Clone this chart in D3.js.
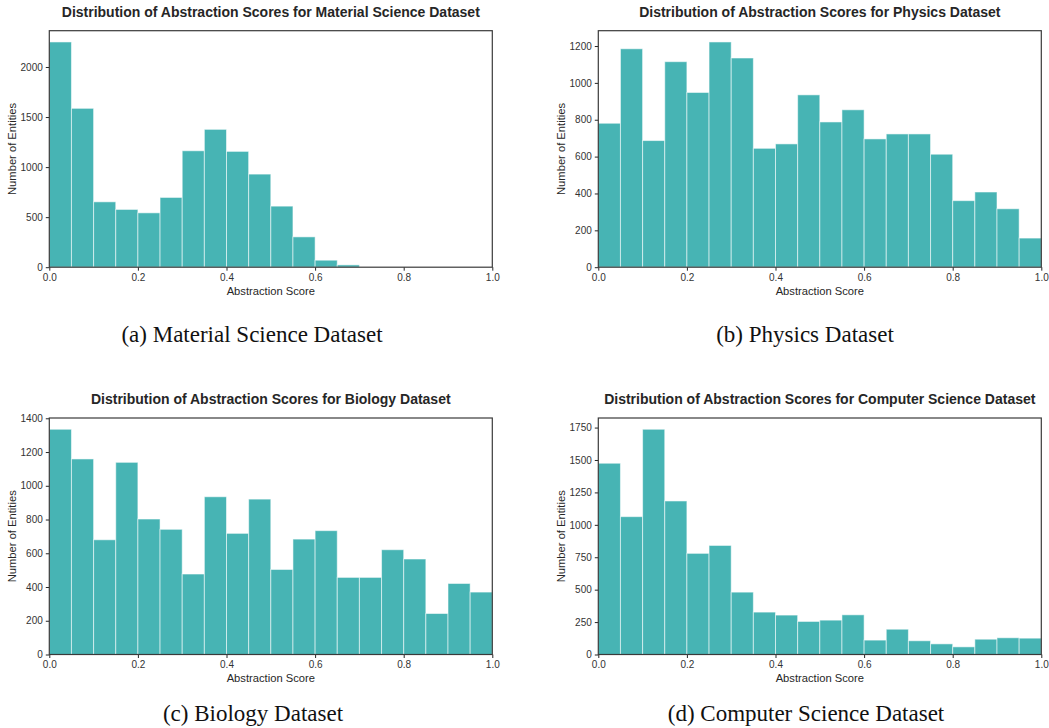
<!DOCTYPE html>
<html>
<head>
<meta charset="utf-8">
<script src="https://cdn.jsdelivr.net/npm/d3@7"></script>
<style>
  body { margin: 0; background: #fff; }
  svg { display: block; }
  .tick text { font-family: "Liberation Sans", Arial, sans-serif; }
</style>
</head>
<body>
<svg id="chart" width="1049" height="728"></svg>
<script>
// bin starts of the histograms (20 bins of width 0.05 on [0, 1])
const binStarts = d3.range(20).map((i) => i / 20);
const binWidth = 0.05;

const materialCounts = [2250, 1587, 653, 577, 543, 697, 1163, 1377, 1157, 930,
  610, 303, 70, 23, 0, 0, 0, 0, 0, 0];
const physicsCounts = [781, 1185, 687, 1115, 948, 1222, 1135, 645, 669, 935,
  788, 854, 696, 723, 723, 613, 361, 408, 317, 158];
const biologyCounts = [1335, 1159, 680, 1139, 803, 742, 477, 935, 718, 921,
  504, 684, 734, 457, 457, 621, 566, 243, 421, 370];
const csCounts = [1475, 1063, 1737, 1184, 780, 841, 481, 327, 304, 255,
  265, 306, 111, 195, 106, 82, 59, 118, 129, 126];

const xTicks = [0, 0.2, 0.4, 0.6, 0.8, 1.0];
const materialYTicks = [0, 500, 1000, 1500, 2000];
const physicsYTicks = [0, 200, 400, 600, 800, 1000, 1200];
const biologyYTicks = [0, 200, 400, 600, 800, 1000, 1200, 1400];
const csYTicks = [0, 250, 500, 750, 1000, 1250, 1500, 1750];

const titles = ['Material Science', 'Physics', 'Biology', 'Computer Science'];
const captions = ['(a) Material Science Dataset', '(b) Physics Dataset',
  '(c) Biology Dataset', '(d) Computer Science Dataset'];

const panels = [
  { counts: materialCounts, yTicks: materialYTicks, left: 49.3, top: 30.7, capX: 252, capY: 342 },
  { counts: physicsCounts, yTicks: physicsYTicks, left: 598.3, top: 30.7, capX: 805, capY: 342 },
  { counts: biologyCounts, yTicks: biologyYTicks, left: 49.3, top: 418, capX: 253, capY: 721 },
  { counts: csCounts, yTicks: csYTicks, left: 598.3, top: 418, capX: 806, capY: 721 },
];

const plotW = 443;
const plotH = 236.5;
const barColor = '#47b4b4';
const ink = '#262626';
const sans = '"Liberation Sans", Arial, Helvetica, sans-serif';

const svg = d3.select('#chart');

panels.forEach((p, k) => {
  const g = svg.append('g').attr('transform', `translate(${p.left},${p.top})`);

  const x = d3.scaleLinear().domain([0, 1]).range([0, plotW]);
  const y = d3.scaleLinear()
    .domain([0, d3.max(p.counts) * 1.05])
    .range([plotH, 0]);

  // bars
  g.selectAll('.bar')
    .data(p.counts.map((c, i) => ({ x0: binStarts[i], c })))
    .join('rect')
    .classed('bar', true)
    .attr('x', (d) => x(d.x0))
    .attr('width', (d) => x(d.x0 + binWidth) - x(d.x0))
    .attr('y', (d) => y(d.c))
    .attr('height', (d) => plotH - y(d.c))
    .style('fill', barColor)
    .attr('stroke', 'rgba(255,255,255,0.55)')
    .attr('stroke-width', 1);

  // axes
  const xAxis = d3.axisBottom(x).tickValues(xTicks)
    .tickFormat(d3.format('.1f')).tickSizeOuter(0).tickSize(3.5).tickPadding(3);
  const yAxis = d3.axisLeft(y).tickValues(p.yTicks)
    .tickFormat(d3.format('d')).tickSizeOuter(0).tickSize(3.5).tickPadding(3);

  g.append('g').attr('transform', `translate(0,${plotH})`).call(xAxis)
    .call((a) => a.select('.domain').remove());
  g.append('g').call(yAxis)
    .call((a) => a.select('.domain').remove());

  g.selectAll('.tick line').attr('stroke', ink).attr('stroke-width', 1);
  g.selectAll('.tick text').attr('fill', '#333').style('font-size', '10px');

  // frame
  g.append('rect')
    .attr('width', plotW).attr('height', plotH)
    .attr('fill', 'none')
    .attr('stroke', '#3a3a3a')
    .attr('stroke-width', 1.2);

  // labels
  g.append('text')
    .attr('x', plotW / 2).attr('y', plotH + 27.5)
    .attr('text-anchor', 'middle')
    .style('font-family', sans).style('font-size', '11.2px')
    .attr('fill', ink)
    .text('Abstraction Score');

  g.append('text')
    .attr('transform', `translate(${-37.6},${plotH / 2}) rotate(-90)`)
    .attr('text-anchor', 'middle')
    .attr('dominant-baseline', 'central')
    .style('font-family', sans).style('font-size', '11.2px')
    .attr('fill', ink)
    .text('Number of Entities');

  g.append('text')
    .attr('x', plotW / 2).attr('y', -13.8)
    .attr('text-anchor', 'middle')
    .style('font-family', sans).style('font-size', '14px')
    .style('font-weight', 'bold')
    .attr('fill', ink)
    .text(`Distribution of Abstraction Scores for ${titles[k]} Dataset`);

  // caption below the subfigure
  svg.append('text')
    .attr('x', p.capX).attr('y', p.capY)
    .attr('text-anchor', 'middle')
    .style('font-family', '"Liberation Serif", "Times New Roman", serif')
    .style('font-size', '23px')
    .attr('fill', '#111')
    .text(captions[k]);
});
</script>
</body>
</html>
